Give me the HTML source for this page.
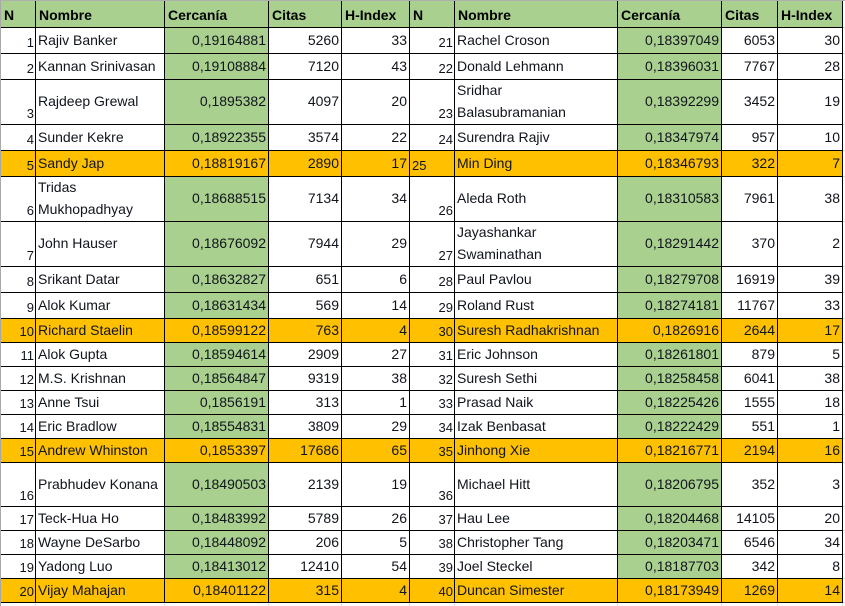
<!DOCTYPE html>
<html lang="es">
<head>
<meta charset="utf-8">
<title>Tabla de cercanía</title>
<style>
html,body{margin:0;padding:0;background:#fff;}
body{position:relative;width:845px;height:606px;overflow:hidden;font-family:"Liberation Sans",Arial,sans-serif;}
#bg{position:absolute;left:0;top:0;}
table{position:absolute;left:1px;top:1px;border-collapse:separate;border-spacing:0;table-layout:fixed;width:842px;color:#10141c;font-size:14px;}
td,th{box-sizing:border-box;padding:0 2px 2px 2px;border-right:1px solid #000;border-bottom:1px solid #000;white-space:nowrap;overflow:hidden;line-height:20px;vertical-align:middle;text-align:right;font-weight:normal;}
th{background:#A9D08E;font-weight:bold;text-align:left;padding:2px 0 0 3px;color:#000;height:27px;}
td.n{vertical-align:bottom;font-size:13px;line-height:17px;padding-right:1px;padding-bottom:2px;}
td.nm{text-align:left;}
td.two{line-height:22px;padding-bottom:0;}
.tw{position:relative;top:-1px;}
td.c{background:#A9D08E;}
tr.o td{background:#FFC000;}
td.l{text-align:left;}
tr.h26 td{height:26px;}tr.h24 td{height:24px;}tr.h45 td{height:45px;}tr.h44 td{height:44px;}
</style>
</head>
<body>
<svg id="bg" width="845" height="606">
<rect x="0" y="0" width="845" height="1" fill="#b0b0b0"/>
<rect x="0" y="0" width="1" height="606" fill="#a8a8a8"/>
<g fill="#dcdcdc">
<rect x="35" y="603" width="1" height="3"/><rect x="164" y="603" width="1" height="3"/><rect x="268" y="603" width="1" height="3"/><rect x="341" y="603" width="1" height="3"/><rect x="409" y="603" width="1" height="3"/><rect x="454" y="603" width="1" height="3"/><rect x="617" y="603" width="1" height="3"/><rect x="721" y="603" width="1" height="3"/><rect x="777" y="603" width="1" height="3"/><rect x="842" y="603" width="1" height="3"/>
<rect x="843" y="27" width="2" height="1"/><rect x="843" y="53" width="2" height="1"/><rect x="843" y="79" width="2" height="1"/><rect x="843" y="124" width="2" height="1"/><rect x="843" y="150" width="2" height="1"/><rect x="843" y="176" width="2" height="1"/><rect x="843" y="221" width="2" height="1"/><rect x="843" y="266" width="2" height="1"/><rect x="843" y="292" width="2" height="1"/><rect x="843" y="318" width="2" height="1"/><rect x="843" y="342" width="2" height="1"/><rect x="843" y="366" width="2" height="1"/><rect x="843" y="390" width="2" height="1"/><rect x="843" y="414" width="2" height="1"/><rect x="843" y="438" width="2" height="1"/><rect x="843" y="462" width="2" height="1"/><rect x="843" y="506" width="2" height="1"/><rect x="843" y="530" width="2" height="1"/><rect x="843" y="554" width="2" height="1"/><rect x="843" y="578" width="2" height="1"/><rect x="843" y="602" width="2" height="1"/>
</g>
</svg>
<table>
<colgroup><col style="width:35px"><col style="width:129px"><col style="width:104px"><col style="width:73px"><col style="width:68px"><col style="width:45px"><col style="width:163px"><col style="width:104px"><col style="width:56px"><col style="width:65px"></colgroup>
<tr><th>N</th><th>Nombre</th><th>Cercanía</th><th>Citas</th><th>H-Index</th><th>N</th><th>Nombre</th><th>Cercanía</th><th>Citas</th><th>H-Index</th></tr>
<tr class="h26"><td class="n">1</td><td class="nm">Rajiv Banker</td><td class="c">0,19164881</td><td>5260</td><td>33</td><td class="n">21</td><td class="nm">Rachel Croson</td><td class="c">0,18397049</td><td>6053</td><td>30</td></tr>
<tr class="h26"><td class="n">2</td><td class="nm">Kannan Srinivasan</td><td class="c">0,19108884</td><td>7120</td><td>43</td><td class="n">22</td><td class="nm">Donald Lehmann</td><td class="c">0,18396031</td><td>7767</td><td>28</td></tr>
<tr class="h45"><td class="n">3</td><td class="nm">Rajdeep Grewal</td><td class="c">0,1895382</td><td>4097</td><td>20</td><td class="n">23</td><td class="nm two"><span class="tw">Sridhar<br>Balasubramanian</span></td><td class="c">0,18392299</td><td>3452</td><td>19</td></tr>
<tr class="h26"><td class="n">4</td><td class="nm">Sunder Kekre</td><td class="c">0,18922355</td><td>3574</td><td>22</td><td class="n">24</td><td class="nm">Surendra Rajiv</td><td class="c">0,18347974</td><td>957</td><td>10</td></tr>
<tr class="h26 o"><td class="n">5</td><td class="nm">Sandy Jap</td><td class="c">0,18819167</td><td>2890</td><td>17</td><td class="n l">25</td><td class="nm">Min Ding</td><td class="c">0,18346793</td><td>322</td><td>7</td></tr>
<tr class="h45"><td class="n">6</td><td class="nm two"><span class="tw">Tridas<br>Mukhopadhyay</span></td><td class="c">0,18688515</td><td>7134</td><td>34</td><td class="n">26</td><td class="nm">Aleda Roth</td><td class="c">0,18310583</td><td>7961</td><td>38</td></tr>
<tr class="h45"><td class="n">7</td><td class="nm">John Hauser</td><td class="c">0,18676092</td><td>7944</td><td>29</td><td class="n">27</td><td class="nm two"><span class="tw">Jayashankar<br>Swaminathan</span></td><td class="c">0,18291442</td><td>370</td><td>2</td></tr>
<tr class="h26"><td class="n">8</td><td class="nm">Srikant Datar</td><td class="c">0,18632827</td><td>651</td><td>6</td><td class="n">28</td><td class="nm">Paul Pavlou</td><td class="c">0,18279708</td><td>16919</td><td>39</td></tr>
<tr class="h26"><td class="n">9</td><td class="nm">Alok Kumar</td><td class="c">0,18631434</td><td>569</td><td>14</td><td class="n">29</td><td class="nm">Roland Rust</td><td class="c">0,18274181</td><td>11767</td><td>33</td></tr>
<tr class="h24 o"><td class="n">10</td><td class="nm">Richard Staelin</td><td class="c">0,18599122</td><td>763</td><td>4</td><td class="n">30</td><td class="nm">Suresh Radhakrishnan</td><td class="c">0,1826916</td><td>2644</td><td>17</td></tr>
<tr class="h24"><td class="n">11</td><td class="nm">Alok Gupta</td><td class="c">0,18594614</td><td>2909</td><td>27</td><td class="n">31</td><td class="nm">Eric Johnson</td><td class="c">0,18261801</td><td>879</td><td>5</td></tr>
<tr class="h24"><td class="n">12</td><td class="nm">M.S. Krishnan</td><td class="c">0,18564847</td><td>9319</td><td>38</td><td class="n">32</td><td class="nm">Suresh Sethi</td><td class="c">0,18258458</td><td>6041</td><td>38</td></tr>
<tr class="h24"><td class="n">13</td><td class="nm">Anne Tsui</td><td class="c">0,1856191</td><td>313</td><td>1</td><td class="n">33</td><td class="nm">Prasad Naik</td><td class="c">0,18225426</td><td>1555</td><td>18</td></tr>
<tr class="h24"><td class="n">14</td><td class="nm">Eric Bradlow</td><td class="c">0,18554831</td><td>3809</td><td>29</td><td class="n">34</td><td class="nm">Izak Benbasat</td><td class="c">0,18222429</td><td>551</td><td>1</td></tr>
<tr class="h24 o"><td class="n">15</td><td class="nm">Andrew Whinston</td><td class="c">0,1853397</td><td>17686</td><td>65</td><td class="n">35</td><td class="nm">Jinhong Xie</td><td class="c">0,18216771</td><td>2194</td><td>16</td></tr>
<tr class="h44"><td class="n">16</td><td class="nm">Prabhudev Konana</td><td class="c">0,18490503</td><td>2139</td><td>19</td><td class="n">36</td><td class="nm">Michael Hitt</td><td class="c">0,18206795</td><td>352</td><td>3</td></tr>
<tr class="h24"><td class="n">17</td><td class="nm">Teck-Hua Ho</td><td class="c">0,18483992</td><td>5789</td><td>26</td><td class="n">37</td><td class="nm">Hau Lee</td><td class="c">0,18204468</td><td>14105</td><td>20</td></tr>
<tr class="h24"><td class="n">18</td><td class="nm">Wayne DeSarbo</td><td class="c">0,18448092</td><td>206</td><td>5</td><td class="n">38</td><td class="nm">Christopher Tang</td><td class="c">0,18203471</td><td>6546</td><td>34</td></tr>
<tr class="h24"><td class="n">19</td><td class="nm">Yadong Luo</td><td class="c">0,18413012</td><td>12410</td><td>54</td><td class="n">39</td><td class="nm">Joel Steckel</td><td class="c">0,18187703</td><td>342</td><td>8</td></tr>
<tr class="h24 o"><td class="n">20</td><td class="nm">Vijay Mahajan</td><td class="c">0,18401122</td><td>315</td><td>4</td><td class="n">40</td><td class="nm">Duncan Simester</td><td class="c">0,18173949</td><td>1269</td><td>14</td></tr>
</table>
</body>
</html>
